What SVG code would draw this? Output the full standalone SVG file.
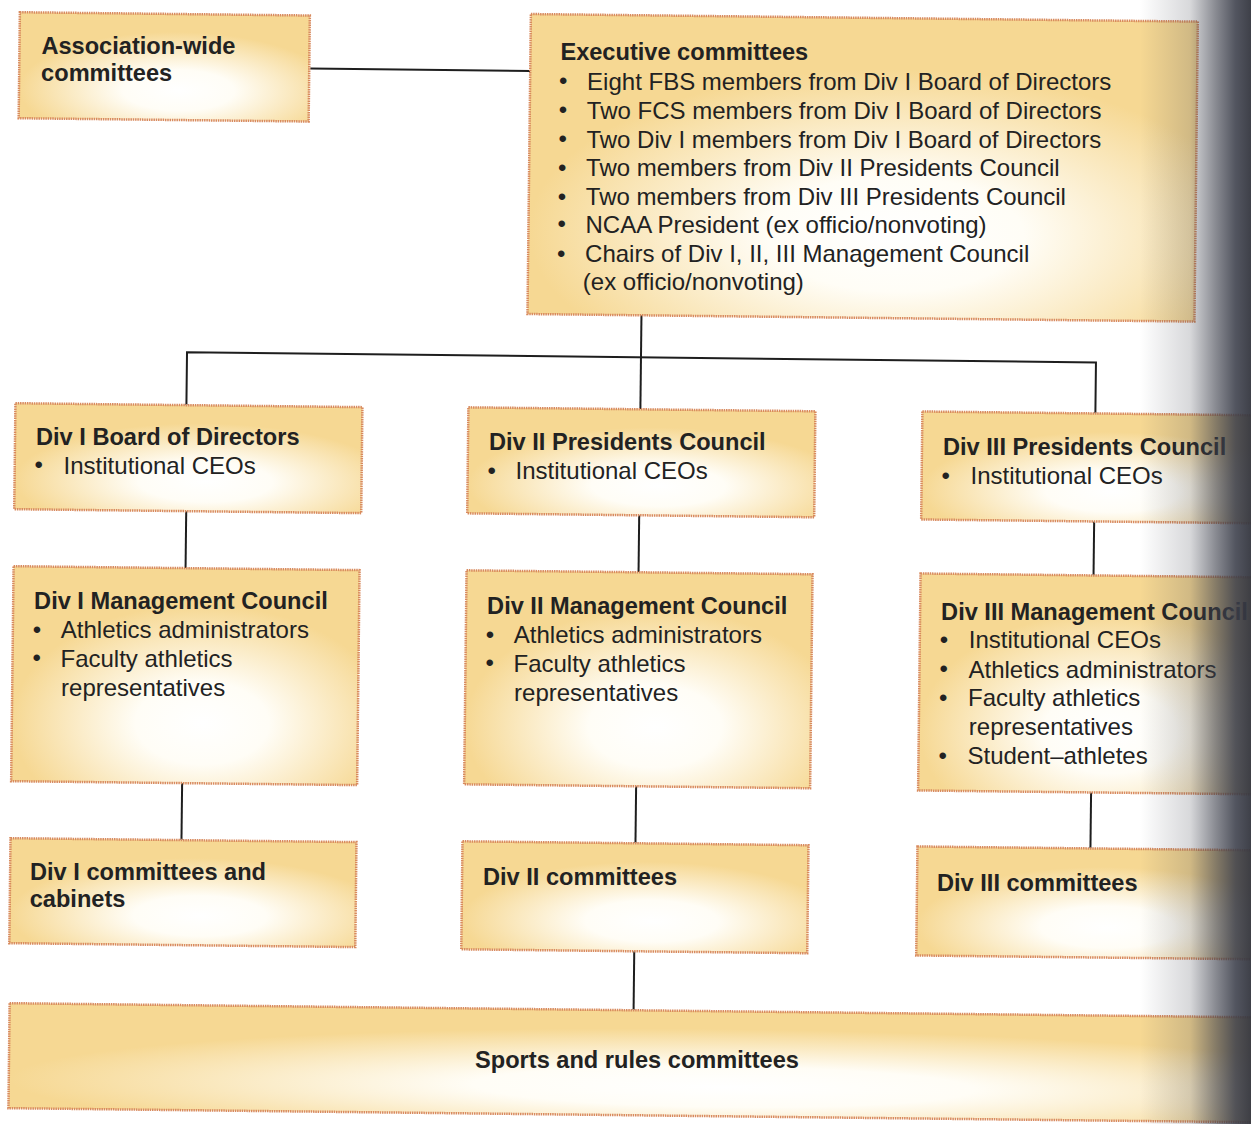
<svg xmlns="http://www.w3.org/2000/svg" width="1251" height="1124" viewBox="0 0 1251 1124">
<defs>
<radialGradient id="boxfill" cx="0.55" cy="0.72" r="0.55">
<stop offset="0" stop-color="#ffffff"/>
<stop offset="0.35" stop-color="#fffdf6"/>
<stop offset="1" stop-color="#f6d893"/>
</radialGradient>
<linearGradient id="gutter" x1="1140" y1="0" x2="1251" y2="0" gradientUnits="userSpaceOnUse">
<stop offset="0" stop-color="#3b3e4a" stop-opacity="0"/>
<stop offset="0.45" stop-color="#3b3e4a" stop-opacity="0.2"/>
<stop offset="0.68" stop-color="#3b3e4a" stop-opacity="0.6"/>
<stop offset="0.86" stop-color="#3b3e4a" stop-opacity="0.88"/>
<stop offset="1" stop-color="#34363f" stop-opacity="0.95"/>
</linearGradient>
<style>
.box{fill:url(#boxfill);stroke:#d88a5e;stroke-width:2.5;stroke-dasharray:1.5 0.8}
.t{font-family:"Liberation Sans",Arial,sans-serif;font-weight:bold;font-size:23.6px;fill:#222}
.i{font-family:"Liberation Sans",Arial,sans-serif;font-size:24px;fill:#222}
.c{fill:none;stroke:#1e1e1e;stroke-width:2}
</style>
</defs>
<rect width="1251" height="1124" fill="#ffffff"/>
<g id="connectors" transform="rotate(0.65)">
<path class="c" d="M311 65 H531"/>
<path class="c" d="M645 308 V402"/>
<path class="c" d="M191 403 V350 H1100 V401"/>
<path class="c" d="M192 509 V566"/>
<path class="c" d="M645 508 V565"/>
<path class="c" d="M1100 509 V563"/>
<path class="c" d="M191 781 V838"/>
<path class="c" d="M645 779 V836"/>
<path class="c" d="M1100 780 V836"/>
<path class="c" d="M645 944 V1003"/>
</g>
<g id="association-wide">
<rect class="box" x="20" y="12" width="290" height="106" transform="rotate(0.65)"/>
<text class="t" x="41.4" y="53.6">Association-wide</text>
<text class="t" x="41.1" y="81.2">committees</text>
</g>
<g id="executive">
<rect class="box" x="531" y="8" width="667" height="300" transform="rotate(0.65)"/>
<text class="t" x="560.4" y="59.8">Executive committees</text>
<text class="i" x="559.1" y="89">•</text><text class="i" x="587.1" y="89.6">Eight FBS members from Div I Board of Directors</text>
<text class="i" x="558.8" y="118">•</text><text class="i" x="586.8" y="118.6">Two FCS members from Div I Board of Directors</text>
<text class="i" x="558.4" y="147">•</text><text class="i" x="586.4" y="147.6">Two Div I members from Div I Board of Directors</text>
<text class="i" x="558.1" y="175.8">•</text><text class="i" x="586.1" y="176.3">Two members from Div II Presidents Council</text>
<text class="i" x="557.8" y="204.8">•</text><text class="i" x="585.8" y="205.4">Two members from Div III Presidents Council</text>
<text class="i" x="557.5" y="232.4">•</text><text class="i" x="585.5" y="232.9">NCAA President (ex officio/nonvoting)</text>
<text class="i" x="557.1" y="261.6">•</text><text class="i" x="585.1" y="262.2">Chairs of Div I, II, III Management Council</text>
<text class="i" x="582.8" y="289.9">(ex officio/nonvoting)</text>
</g>
<g id="div1-board">
<rect class="box" x="20" y="403" width="347" height="106" transform="rotate(0.65)"/>
<text class="t" x="36" y="445">Div I Board of Directors</text>
<text class="i" x="34.6" y="473.4">•</text><text class="i" x="63.6" y="473.9">Institutional CEOs</text>
</g>
<g id="div2-presidents">
<rect class="box" x="473" y="402" width="347" height="106" transform="rotate(0.65)"/>
<text class="t" x="489" y="450.2">Div II Presidents Council</text>
<text class="i" x="487.6" y="478.5">•</text><text class="i" x="515.6" y="479">Institutional CEOs</text>
</g>
<g id="div3-presidents">
<rect class="box" x="927" y="401" width="347" height="108" transform="rotate(0.65)"/>
<text class="t" x="943" y="455.4">Div III Presidents Council</text>
<text class="i" x="941.6" y="483.7">•</text><text class="i" x="970.6" y="484.2">Institutional CEOs</text>
</g>
<g id="div1-management">
<rect class="box" x="20" y="566" width="346" height="215" transform="rotate(0.65)"/>
<text class="t" x="34.1" y="609.2">Div I Management Council</text>
<text class="i" x="32.8" y="637.7">•</text><text class="i" x="60.8" y="638.2">Athletics administrators</text>
<text class="i" x="32.5" y="666.2">•</text><text class="i" x="60.5" y="666.7">Faculty athletics</text>
<text class="i" x="61.1" y="695.7">representatives</text>
</g>
<g id="div2-management">
<rect class="box" x="473" y="565" width="346" height="214" transform="rotate(0.65)"/>
<text class="t" x="487.1" y="614.3">Div II Management Council</text>
<text class="i" x="485.8" y="642.8">•</text><text class="i" x="513.8" y="643.3">Athletics administrators</text>
<text class="i" x="485.5" y="671.4">•</text><text class="i" x="513.5" y="671.9">Faculty athletics</text>
<text class="i" x="514.1" y="700.8">representatives</text>
</g>
<g id="div3-management">
<rect class="box" x="927" y="563" width="347" height="217" transform="rotate(0.65)"/>
<text class="t" x="941.1" y="619.5">Div III Management Council</text>
<text class="i" x="939.8" y="647.7">•</text><text class="i" x="968.8" y="648.2">Institutional CEOs</text>
<text class="i" x="939.5" y="677">•</text><text class="i" x="968.5" y="677.5">Athletics administrators</text>
<text class="i" x="939.1" y="705.5">•</text><text class="i" x="968.1" y="706">Faculty athletics</text>
<text class="i" x="968.8" y="735">representatives</text>
<text class="i" x="938.5" y="763.6">•</text><text class="i" x="967.5" y="764.1">Student–athletes</text>
</g>
<g id="div1-committees">
<rect class="box" x="20" y="838" width="346" height="105" transform="rotate(0.65)"/>
<text class="t" x="30" y="879.8">Div I committees and</text>
<text class="t" x="29.7" y="907">cabinets</text>
</g>
<g id="div2-committees">
<rect class="box" x="472" y="836" width="346" height="108" transform="rotate(0.65)"/>
<text class="t" x="483" y="884.7">Div II committees</text>
</g>
<g id="div3-committees">
<rect class="box" x="927" y="836" width="347" height="109" transform="rotate(0.65)"/>
<text class="t" x="937" y="890.9">Div III committees</text>
</g>
<g id="sports-rules">
<rect class="box" x="21" y="1003" width="1300" height="105" transform="rotate(0.65)"/>
<text class="t" x="637" y="1068.4" text-anchor="middle">Sports and rules committees</text>
</g>
<rect x="1140" y="0" width="111" height="1124" fill="url(#gutter)"/>
</svg>
